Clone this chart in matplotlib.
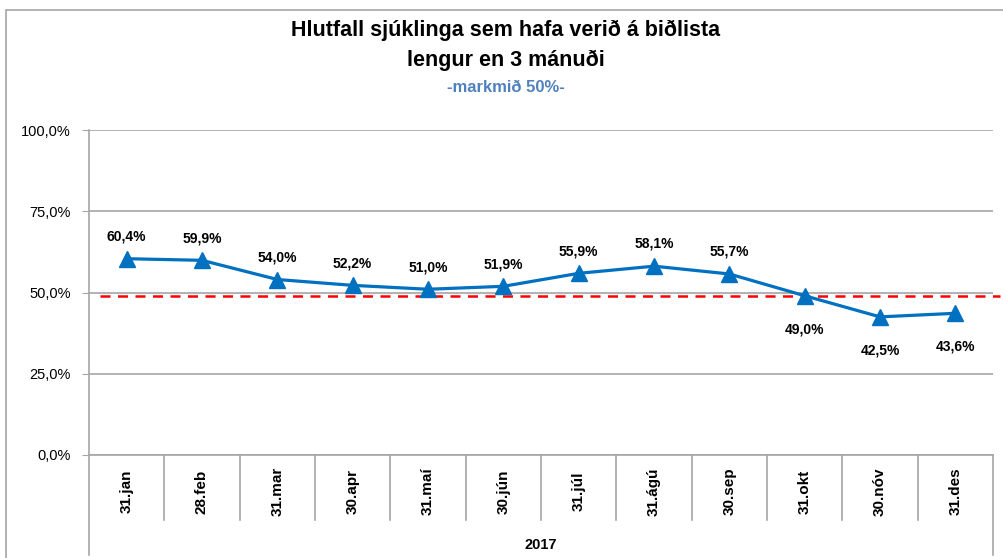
import numpy as np
import matplotlib.pyplot as plt
import matplotlib.ticker as ticker
from matplotlib.patches import Rectangle

plt.rcParams['font.family'] = ['Liberation Sans', 'DejaVu Sans']

# data
categories = ['31.jan', '28.feb', '31.mar', '30.apr', '31.maí', '30.jún',
              '31.júl', '31.ágú', '30.sep', '31.okt', '30.nóv', '31.des']
values = [60.4, 59.9, 54.0, 52.2, 51.0, 51.9, 55.9, 58.1, 55.7, 49.0, 42.5, 43.6]
label_below = [False, False, False, False, False, False, False, False, False, True, True, True]
target = 49.0
year = '2017'
title = 'Hlutfall sjúklinga sem hafa verið á biðlista\nlengur en 3 mánuði'
subtitle = '-markmið 50%-'

W, H = 1004, 558
fig = plt.figure(figsize=(W / 100, H / 100), dpi=100)
# outer chart frame, right edge cut off by the image
fig.patches.append(Rectangle((6 / W, -0.05), 1.1, 1.05 - 10 / H, transform=fig.transFigure,
                             fill=False, edgecolor='#a6a6a6', lw=1.2))

ax = fig.add_axes([89 / W, 1 - 455 / H, (993 - 89) / W, 325 / H])
x = np.arange(len(categories))
blue = '#0070C0'
grey = '#a6a6a6'

ax.plot(x, values, color=blue, lw=2.3, marker='^', markersize=11, zorder=4)
ax.axhline(target, xmin=0.012, xmax=1.008, color='#ff0000', ls=(0, (4, 3)), lw=1.8,
           clip_on=False, zorder=3)

for xi, v, below in zip(x, values, label_below):
    lab = ('%.1f%%' % v).replace('.', ',')
    dy = -24 if below else 16
    ax.annotate(lab, (xi, v), xytext=(0, dy), textcoords='offset points',
                ha='center', va='center', fontsize=10, fontweight='bold')

ax.set_xlim(-0.5, len(categories) - 0.5)
ax.set_ylim(0, 100)
ax.set_yticks([0, 25, 50, 75, 100])
ax.yaxis.set_major_formatter(ticker.FuncFormatter(lambda v, p: ('%.1f%%' % v).replace('.', ',')))
ax.tick_params(axis='y', length=5, color=grey, labelsize=10.5, pad=8)
ax.set_xticks([])
ax.grid(axis='y', color=grey, lw=1.2)
ax.set_axisbelow(True)
for s in ['top', 'right']:
    ax.spines[s].set_visible(False)
ax.spines['left'].set_color(grey)
ax.spines['bottom'].set_color(grey)
ax.spines['left'].set_linewidth(1.2)
ax.spines['bottom'].set_linewidth(1.2)

# category boxes
tr = ax.get_xaxis_transform()
for b in np.arange(0.5, len(categories) - 1, 1.0):
    ax.plot([b, b], [0, -0.2], color=grey, lw=1.2, transform=tr, clip_on=False)
for b in [-0.5, len(categories) - 0.5]:
    ax.plot([b, b], [0, -0.308], color=grey, lw=1.2, transform=tr, clip_on=False)
for xi, c in zip(x, categories):
    ax.text(xi, -0.112, c, rotation=90, ha='center', va='center', fontsize=11,
            fontweight='bold', transform=tr)
ax.text((len(categories) - 1) / 2, -0.277, year, ha='center', va='center', fontsize=10.5,
        fontweight='bold', transform=tr)

fig.text(0.504, 1 - 45 / H, title, ha='center', va='center', fontsize=15.5,
         fontweight='bold', linespacing=1.55)
fig.text(0.504, 1 - 87 / H, subtitle, ha='center', va='center', fontsize=12,
         fontweight='bold', color='#4f81bd')

fig.savefig('out.png', dpi=100)
